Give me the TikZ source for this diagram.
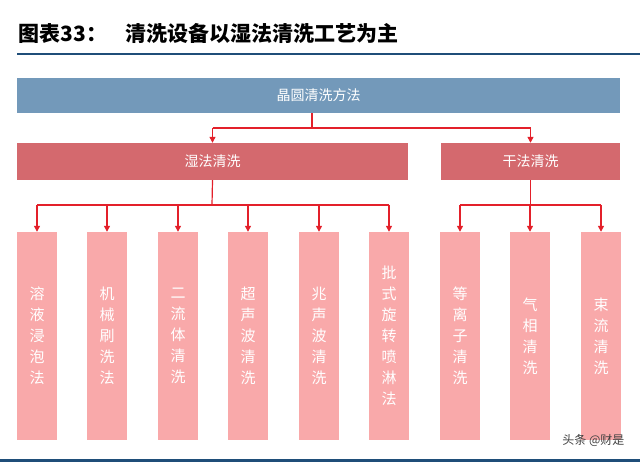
\documentclass[tikz,border=0pt]{standalone}
\usepackage{fontspec}
\newfontfamily\cjk{Noto Sans CJK SC}
\usetikzlibrary{arrows.meta}
\definecolor{topc}{HTML}{7399BA}
\definecolor{midc}{HTML}{D4696E}
\definecolor{leafc}{HTML}{F9A9AA}
\definecolor{linec}{HTML}{E3202A}
\definecolor{rulec}{HTML}{1F4E79}
\begin{document}
\begin{tikzpicture}[x=1pt,y=-1pt,
  topbox/.style={fill=topc,draw=none,minimum width=603pt,minimum height=35pt,text=white,font=\cjk\fontsize{14}{16}\selectfont},
  midbox/.style={fill=midc,draw=none,minimum height=37pt,text=white,font=\cjk\fontsize{14}{16}\selectfont},
  leafbox/.style={fill=leafc,draw=none,minimum width=40pt,minimum height=208pt,text=white,font=\cjk\fontsize{15}{21}\selectfont,align=center},
  conn/.style={draw=linec,line width=1.2pt},
  arr/.style={conn,-{Triangle[width=6pt,length=6pt]}}]
\useasboundingbox (0,0) rectangle (640,462);
\node[anchor=west,font=\cjk\bfseries\fontsize{21}{24}\selectfont] (title) at (15,33) {图表33：\hspace{0.9em}清洗设备以湿法清洗工艺为主};
\draw[rulec,line width=2pt] (17,54) -- (640,54);
\draw[rulec,line width=3pt] (0,460) -- (640,460);
\node[topbox] (top) at (318.5,95.5) {晶圆清洗方法};
\node[midbox,minimum width=391pt] (wet) at (212.5,161.5) {湿法清洗};
\node[midbox,minimum width=179pt] (dry) at (530.5,161.5) {干法清洗};
\foreach \n/\x/\t in {a/37/溶\\液\\浸\\泡\\法,b/107/机\\械\\刷\\洗\\法,c/178/二\\流\\体\\清\\洗,d/248/超\\声\\波\\清\\洗,e/319/兆\\声\\波\\清\\洗,f/389/批\\式\\旋\\转\\喷\\淋\\法,g/460/等\\离\\子\\清\\洗,h/530/气\\相\\清\\洗,i/601/束\\流\\清\\洗}{
  \node[leafbox] (\n) at (\x,336) {\t};
}
\coordinate (j0) at (312,128);
\draw[conn] (top.south -| j0) -- (j0);
\draw[conn] (wet.north |- j0) -- (dry.north |- j0);
\draw[arr] (wet.north |- j0) -- (wet.north);
\draw[arr] (dry.north |- j0) -- (dry.north);
\coordinate (j1) at (212,205);
\draw[conn] (wet.south) -- (j1);
\draw[conn] (a.north |- j1) -- (f.north |- j1);
\foreach \n in {a,b,c,d,e,f}{\draw[arr] (\n.north |- j1) -- (\n.north);}
\draw[conn] (dry.south) -- (dry.south |- j1);
\draw[conn] (g.north |- j1) -- (i.north |- j1);
\foreach \n in {g,h,i}{\draw[arr] (\n.north |- j1) -- (\n.north);}
\node[anchor=east,text=black!75,font=\cjk\fontsize{12}{14}\selectfont] (wm) at (628,440) {头条 @财是};
\end{tikzpicture}
\end{document}
